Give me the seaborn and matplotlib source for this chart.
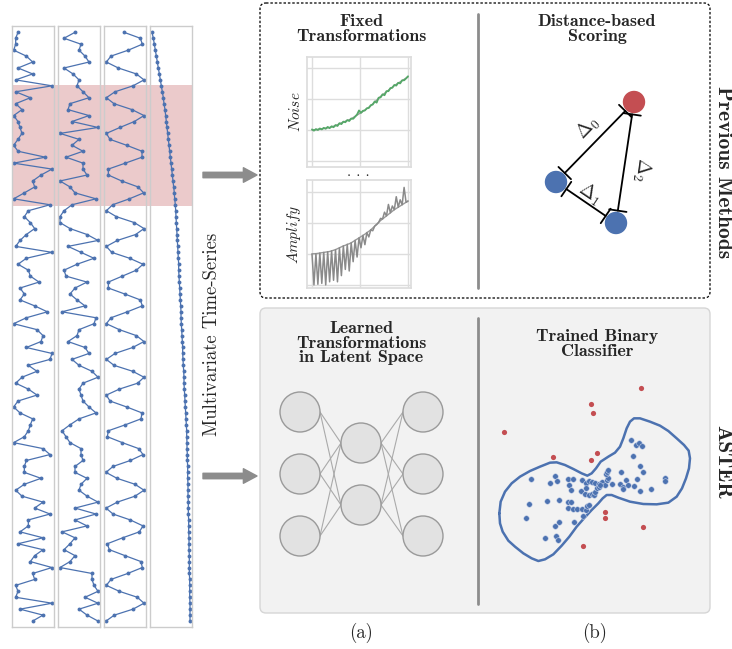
import numpy as np
import matplotlib
matplotlib.use("Agg")
import matplotlib.pyplot as plt
from matplotlib.patches import FancyBboxPatch, Rectangle, Circle
import seaborn as sns

# ---- data ----
# four channels of the multivariate time series (100 steps, top -> bottom)
series_a = [18, 11, 11, 5, 43, 62, 18, 62, 11, 120, 11, 55, 11, 30, 5, 18, 24, 30, 18, 5,
            18, 100, 5, 120, 87, 62, 68, 37, 5,
            114, 49, 37, 55, 68, 43, 24, 11, 120, 43, 18, 49, 55, 81, 24, 37, 24, 68, 106, 43,
            5, 75, 93, 87, 43, 120, 114, 49, 75, 30, 11, 49, 75, 18, 5, 24, 62,
            55, 49, 37, 5, 93, 114, 43, 37, 37, 87, 37, 11, 30, 93, 68, 114, 49, 49, 24, 93,
            18, 93, 68, 55, 120, 62, 68, 11, 18, 11, 120, 24, 93, 62]
series_b = [51, 18, 69, 63, 81, 93, 18, 45, 63, 57, 75, 93, 36, 30, 93, 42, 120, 6, 63, 42,
            75, 24, 75, 75, 87, 6, 36, 51, 114,
            42, 18, 6, 6, 36, 87, 120, 30, 69, 108, 57, 18, 24, 87, 51, 36, 57, 81, 12, 114,
            108, 63, 57, 30, 81, 93, 42, 63, 102, 120, 75, 63, 69, 75, 93, 114, 63,
            36, 12, 24, 36, 69, 69, 75, 51, 51, 87, 69, 63, 87, 120, 51, 114, 51, 87, 12, 51,
            36, 18, 51, 36, 6, 102, 102, 108, 120, 81, 120, 63, 87, 120]
series_c = [60, 109, 115, 73, 21, 7, 43, 97, 120, 87, 33, 7, 30, 84, 120, 91, 48, 7, 18, 68,
            114, 114, 64, 13, 13, 53, 102, 119, 76,
            26, 7, 37, 91, 120, 95, 40, 7, 23, 77, 117, 97, 55, 13, 13, 62, 109, 115, 70, 21,
            7, 46, 97, 120, 86, 33, 7, 30, 86, 120, 101, 46, 7, 18, 68, 114, 111,
            64, 13, 10, 55, 104, 117, 79, 27, 6, 39, 93, 120, 93, 40, 6, 27, 79, 117, 106, 56,
            10, 16, 63, 111, 115, 71, 21, 7, 46, 100, 120, 87, 31, 6]
series_d = [6, 10, 13, 16, 19, 22, 25, 28, 31, 34, 37, 40, 42, 45, 47, 49, 51, 53, 55, 57,
            59, 61, 63, 65, 67, 69, 71, 73, 74,
            76, 77, 78, 79, 80, 81, 82, 83, 84, 85, 86, 86, 87, 88, 89, 90, 91, 92, 93, 93,
            94, 95, 96, 97, 98, 98, 99, 100, 101, 102, 102, 103, 104, 105, 106, 107, 108,
            109, 110, 110, 111, 111, 112, 112, 113, 113, 113, 114, 114, 114, 115, 115, 115,
            116, 116, 116, 117, 117, 117, 118, 118, 118, 118, 119, 119, 119, 119, 120, 120,
            120, 120]

# base signal and its fixed transformations
base_signal = [1.00, 1.01, 1.01, 1.02, 1.03, 1.04, 1.05, 1.06, 1.07, 1.08, 1.10, 1.12, 1.14,
               1.17, 1.20, 1.23, 1.26, 1.28, 1.31, 1.33, 1.36, 1.40, 1.44, 1.48, 1.52, 1.56,
               1.60, 1.64, 1.69, 1.73, 1.78, 1.84, 1.90, 1.96, 2.02, 2.08, 2.13, 2.18, 2.23,
               2.28, 2.33, 2.38, 2.43, 2.47, 2.51, 2.55, 2.59, 2.63, 2.67, 2.71]
noise_signal = [1.02, 0.98, 1.03, 1.00, 1.05, 1.02, 1.07, 1.04, 1.10, 1.06, 1.12, 1.09, 1.16,
                1.13, 1.22, 1.19, 1.27, 1.25, 1.32, 1.29, 1.37, 1.36, 1.43, 1.50, 1.63, 1.55,
                1.62, 1.63, 1.70, 1.71, 1.80, 1.82, 1.92, 1.88, 2.04, 2.05, 2.15, 2.12, 2.25,
                2.25, 2.35, 2.36, 2.45, 2.43, 2.52, 2.50, 2.60, 2.60, 2.66, 2.73]
amplify_signal = [1.00, 0.00, 1.01, 0.02, 1.03, 0.05, 1.05, 0.00, 1.07, 0.10, 1.10, 0.15, 1.14,
                  0.10, 1.20, 0.30, 1.26, 0.50, 1.31, 0.45, 1.36, 0.75, 1.44, 0.90, 1.52, 1.20,
                  1.60, 1.30, 1.69, 1.55, 1.78, 1.75, 1.90, 1.95, 2.02, 2.15, 2.13, 2.35, 2.23,
                  2.60, 2.33, 2.55, 2.43, 2.85, 2.51, 2.75, 2.59, 3.15, 2.67, 2.71]

# distance-based scoring: one anomaly (red) and two normal points (blue)
score_x = [634, 556, 616]
score_y = [102, 182, 223]
score_normal = [False, True, True]

# trained binary classifier: normal samples, anomalies and the learned boundary
normal_x = [153, 209, 226, 232, 264, 278, 268, 274, 306, 318, 328, 336, 346, 358, 366, 376,
            382, 384, 378, 380, 384, 396, 424, 420, 430, 428, 437, 444, 462, 472, 480, 488,
            480, 460, 454, 468, 478, 486, 512, 554, 556, 302, 316, 326, 336, 342, 346, 350,
            356, 360, 318, 238, 202, 148, 264, 272, 264, 280, 290, 306, 318, 322, 326, 310,
            282, 237, 224, 138, 196, 228, 234]
normal_y = [522, 533, 512, 528, 523, 523, 541, 556, 525, 535, 528, 531, 533, 537, 530, 540,
            525, 518, 508, 500, 496, 538, 502, 538, 546, 552, 525, 541, 542, 522, 557, 500,
            483, 454, 406, 419, 415, 424, 552, 518, 527, 558, 566, 571, 566, 571, 560, 550,
            545, 540, 548, 585, 588, 597, 592, 592, 608, 612, 612, 612, 614, 604, 600, 632,
            650, 650, 662, 638, 698, 692, 704]
anomaly_x = [484, 333, 338, 72, 220, 352, 334, 376, 375, 490, 310]
anomaly_y = [248, 298, 324, 380, 455, 445, 465, 620, 639, 667, 722]
boundary_x = [58, 62, 75, 95, 120, 150, 180, 210, 230, 255, 280, 305, 322, 335, 348, 362, 385,
              405, 420, 430, 440, 450, 462, 480, 510, 540, 565, 590, 612, 626, 630, 627, 618,
              606, 590, 565, 530, 490, 450, 415, 395, 380, 368, 355, 335, 312, 290, 268, 245,
              220, 195, 175, 155, 130, 105, 85, 68, 60, 58]
boundary_y = [625, 590, 560, 535, 515, 498, 485, 473, 472, 480, 492, 505, 512, 505, 490, 470,
              455, 443, 425, 400, 370, 350, 340, 340, 350, 362, 378, 400, 420, 437, 460, 490,
              520, 550, 575, 593, 598, 597, 590, 578, 570, 570, 580, 595, 615, 640, 665, 695,
              722, 748, 763, 768, 760, 745, 725, 707, 680, 655, 625]

layer_sizes = [3, 2, 3]

# ---- style ----
sns.set_theme(style="white")
plt.rcParams["mathtext.fontset"] = "cm"
deep = sns.color_palette("deep")
BLUE, GREEN, RED = deep[0], deep[2], deep[3]
GREY = "#8c8c8c"
REG, BOLD = "cmr10", "cmb10"

W, H = 732, 649
fig = plt.figure(figsize=(W / 100, H / 100), dpi=100)


def px_axes(x0, y0, x1, y1):
    # axes placed by pixel box (top-left origin)
    return fig.add_axes([x0 / W, 1 - y1 / H, (x1 - x0) / W, (y1 - y0) / H])


ax0 = fig.add_axes([0, 0, 1, 1])
ax0.set_xlim(0, W)
ax0.set_ylim(H, 0)
ax0.axis("off")

# highlighted window over the series
ax0.add_patch(Rectangle((12, 85), 180, 121, color="#ebcacb", lw=0, zorder=0))

# multivariate time series columns
steps = np.arange(len(series_a))
for left, vals in zip([12, 58, 104, 150], [series_a, series_b, series_c, series_d]):
    ax = px_axes(left, 26, left + 42, 627)
    ax.patch.set_alpha(0)
    sns.lineplot(x=vals, y=steps, sort=False, estimator=None, color=BLUE, lw=0.9,
                 marker="o", markersize=2.8, markeredgewidth=0, ax=ax)
    ax.set_xlim(0, 126)
    ax.set_ylim(100, -1.06)
    ax.set_xticks([])
    ax.set_yticks([])
    ax.set(xlabel="", ylabel="")
    for s in ax.spines.values():
        s.set_color("#cccccc")
        s.set_linewidth(1)

ax0.text(212, 334, "Multivariate Time-Series", rotation=90, ha="center", va="center",
         fontfamily=REG, fontsize=13.5)

# arrows into the two rows
for y in [175, 476]:
    ax0.annotate("", xy=(257, y), xytext=(203, y),
                 arrowprops=dict(arrowstyle="simple,head_length=0.7,head_width=0.75,tail_width=0.28",
                                 color=GREY, mutation_scale=14, shrinkA=0, shrinkB=0))

# boxes
ax0.add_patch(FancyBboxPatch((260, 3), 450, 295, boxstyle="round,pad=0,rounding_size=6",
                             fc="none", ec="black", lw=0.9, ls=(0, (2, 1.5)), zorder=1))
ax0.add_patch(FancyBboxPatch((260, 308), 450, 305, boxstyle="round,pad=0,rounding_size=6",
                             fc="#f2f2f2", ec="#d6d6d6", lw=1, zorder=1))
ax0.plot([478, 478], [14, 288], color=GREY, lw=2, zorder=2)
ax0.plot([478, 478], [318, 604], color=GREY, lw=2, zorder=2)

# panel titles
title_kw = dict(ha="center", va="center", fontfamily=BOLD, fontsize=13, linespacing=0.95)
ax0.text(361, 29, "Fixed\nTransformations", **title_kw)
ax0.text(597, 29, "Distance-based\nScoring", **title_kw)
ax0.text(361, 343, "Learned\nTransformations\nin Latent Space", **title_kw)
ax0.text(597, 344, "Trained Binary\nClassifier", **title_kw)
ax0.text(723, 172, "Previous Methods", rotation=-90, ha="center", va="center",
         fontfamily=BOLD, fontsize=15.5)
ax0.text(723, 462, "ASTER", rotation=-90, ha="center", va="center", fontfamily=BOLD,
         fontsize=15.5)
ax0.text(361, 633, "(a)", ha="center", va="center", fontfamily=REG, fontsize=13.5)
ax0.text(595, 633, "(b)", ha="center", va="center", fontfamily=REG, fontsize=13.5)

# fixed transformations: noise and amplify
t = np.linspace(0, 1, len(base_signal))
panels = [((57, 167), (-0.19, 3.35), noise_signal, GREEN, 1.3, r"$Noise$"),
          ((180, 288), (-0.1, 3.39), amplify_signal, "#8a8a8a", 1.1, r"$Amplify$")]
for (y0, y1), ylim, sig, col, lw, lab in panels:
    ax = px_axes(307, y0, 411, y1)
    ax.set_facecolor("white")
    sns.lineplot(x=t, y=base_signal, color="#999999", lw=1, ax=ax)
    sns.lineplot(x=np.linspace(0, 1, len(sig)), y=sig, sort=False, estimator=None,
                 color=col, lw=lw, ax=ax)
    ax.set_xlim(-0.052, 1.031)
    ax.set_ylim(*ylim)
    ax.set_xticks([0, 0.5, 1])
    ax.set_yticks([0, 1, 2, 3])
    ax.tick_params(length=0, labelbottom=False, labelleft=False)
    ax.grid(True, color="#dddddd", lw=1)
    for s in ax.spines.values():
        s.set_color("#dddddd")
    ax.set_xlabel("")
    ax.set_ylabel(lab, fontsize=11, labelpad=3)
ax0.text(358, 172, ". . .", ha="center", va="center", fontfamily=REG, fontsize=11)

# distance-based scoring
for x, y, normal in zip(score_x, score_y, score_normal):
    ax0.add_patch(Circle((x, y), 10.5, color=BLUE if normal else RED, zorder=3))
for (i, j), lab, (lx, ly, rot) in zip([(1, 0), (1, 2), (0, 2)],
                                      [r"$\Delta_0$", r"$\Delta_1$", r"$\Delta_2$"],
                                      [(588, 128, 46), (590, 194, -34), (642, 170, -98)]):
    ax0.annotate("", xy=(score_x[j], score_y[j]), xytext=(score_x[i], score_y[i]),
                 arrowprops=dict(arrowstyle="|-|,widthA=0.45,widthB=0.45", color="black",
                                 lw=1.3, shrinkA=9, shrinkB=9, mutation_scale=14), zorder=2)
    ax0.text(lx, ly, lab, rotation=rot, ha="center", va="center", fontsize=13.5)

# learned transformations: small encoder/decoder network
layer_x = [300, 361, 423]
node_y = [474 + 62 * (np.arange(n) - (n - 1) / 2) for n in layer_sizes]
r = 20
for k in range(len(layer_sizes) - 1):
    for ya in node_y[k]:
        for yb in node_y[k + 1]:
            ax0.plot([layer_x[k] + r, layer_x[k + 1] - r], [ya, yb], color="#aaaaaa", lw=0.8,
                     zorder=2)
for x, ys in zip(layer_x, node_y):
    for y in ys:
        ax0.add_patch(Circle((x, y), r, fc="#e2e2e2", ec="#9a9a9a", lw=1, zorder=3))

# trained binary classifier
axc = px_axes(480, 308, 710, 613)
axc.patch.set_alpha(0)
axc.plot(boundary_x, boundary_y, color=BLUE, lw=1.8, solid_joinstyle="round")
sns.scatterplot(x=normal_x, y=normal_y, color=BLUE, s=16, edgecolor="#c9d4ea", linewidth=0.4,
                ax=axc, zorder=3)
sns.scatterplot(x=anomaly_x, y=anomaly_y, color=RED, s=14, linewidth=0, ax=axc, zorder=3)
axc.set_xlim(0, 690)
axc.set_ylim(924, 9)
axc.axis("off")

fig.savefig("out.png", dpi=100)
